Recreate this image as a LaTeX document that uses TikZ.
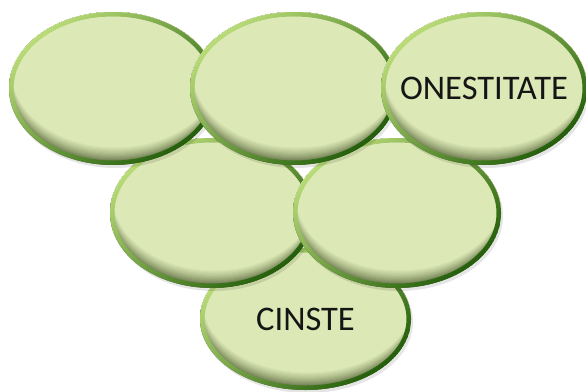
\documentclass[tikz,border=0pt]{standalone}
\usepackage{fontspec}
\setmainfont{Carlito}
\definecolor{fillg}{HTML}{DCE8B5}
\definecolor{shadeg}{HTML}{35451C}
\definecolor{lightg}{HTML}{B9DC78}
\definecolor{midg}{HTML}{8DC132}
\definecolor{darkg}{HTML}{235E0A}
\definecolor{txt}{HTML}{151515}
\tikzset{
  ringshade/.style={even odd rule, top color=lightg, middle color=midg, bottom color=darkg, shading angle=40},
  label/.style={text=txt, font=\fontsize{34.5}{38}\selectfont, inner sep=0pt}
}
% #1 name, #2 cx, #3 cy (px, downward), #4 rx, #5 ry, #6 text
\newcommand\blob[6]{%
  \begin{scope}
    \fill[black, opacity=0.10] (#2pt+2pt,-#3pt-3pt) ellipse [x radius=#4pt, y radius=#5pt];
    \begin{scope}
      \clip (#2pt,-#3pt) ellipse [x radius=#4pt, y radius=#5pt];
      \fill[shadeg] (#2pt,-#3pt) ellipse [x radius=#4pt, y radius=#5pt];
      \foreach \i in {1,...,16} {
        \pgfmathsetmacro\pc{100*(\i/16)^0.65}
        \fill[fillg!\pc!shadeg] (#2pt+\i*0.15pt,-#3pt+\i*1.1pt) ellipse [x radius=#4pt, y radius=#5pt];
      }
      \fill[white, opacity=0.35, even odd rule]
        (#2pt,-#3pt) ellipse [x radius=#4pt, y radius=#5pt]
        (#2pt,-#3pt-5pt) ellipse [x radius=#4pt, y radius=#5pt];
    \end{scope}
    \shade[ringshade] (#2pt,-#3pt) ellipse [x radius=#4pt, y radius=#5pt]
                      (#2pt,-#3pt) ellipse [x radius=#4pt-4.5pt, y radius=#5pt-4.5pt];
    \node[label] (#1) at (#2pt,-#3pt) {#6};
  \end{scope}}
\begin{document}
\begin{tikzpicture}
\useasboundingbox (0,0) rectangle (586pt,-391pt);
\begin{scope}
\clip (0,0) rectangle (586pt,-391pt);
\blob{bot}{305.5}{319}{105.5}{71}{CINSTE}
\blob{midl}{212}{213}{102}{75}{}
\blob{midr}{397}{213}{104}{75}{}
\blob{topl}{113}{88.5}{104}{76.5}{}
\blob{topm}{294}{88.5}{104}{76.5}{}
\blob{topr}{484}{88.5}{103}{76.5}{ONESTITATE}
\end{scope}
\end{tikzpicture}
\end{document}
